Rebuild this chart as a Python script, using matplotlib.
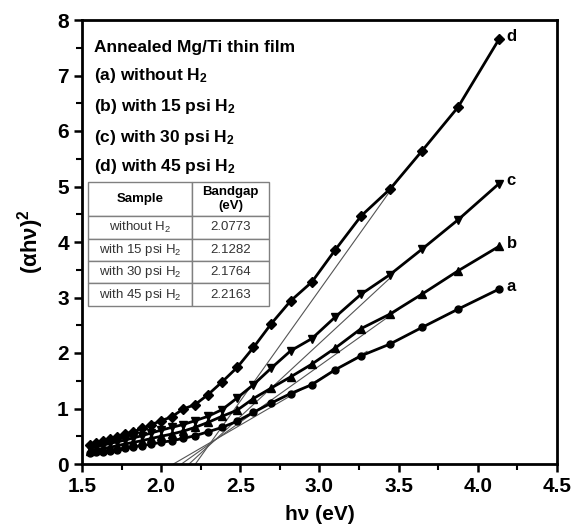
import matplotlib
matplotlib.use("Agg")
import matplotlib.pyplot as plt
import numpy as np
from matplotlib.ticker import MultipleLocator

plt.rcParams['font.family'] = ['Liberation Sans Narrow', 'Liberation Sans', 'DejaVu Sans']
plt.rcParams['mathtext.fontset'] = 'custom'
plt.rcParams['mathtext.rm'] = 'Liberation Sans'
plt.rcParams['mathtext.bf'] = 'Liberation Sans:bold'
plt.rcParams['mathtext.default'] = 'regular'

# photon energy (eV)
hv = [4.133, 3.875, 3.647, 3.444, 3.263, 3.100, 2.952, 2.818, 2.696, 2.583,
      2.480, 2.385, 2.296, 2.214, 2.138, 2.067, 2.000, 1.938, 1.879, 1.824,
      1.771, 1.722, 1.676, 1.632, 1.590, 1.550]

a_vals = [3.15, 2.79, 2.46, 2.16, 1.95, 1.70, 1.43, 1.27, 1.10, 0.93,
          0.77, 0.66, 0.58, 0.51, 0.46, 0.42, 0.39, 0.36, 0.33, 0.31,
          0.28, 0.26, 0.24, 0.22, 0.21, 0.20]
b_vals = [3.92, 3.48, 3.06, 2.70, 2.44, 2.09, 1.80, 1.57, 1.37, 1.18,
          0.97, 0.86, 0.75, 0.66, 0.59, 0.54, 0.50, 0.46, 0.42, 0.39,
          0.36, 0.33, 0.30, 0.28, 0.26, 0.24]
c_vals = [5.05, 4.40, 3.87, 3.41, 3.06, 2.65, 2.26, 2.04, 1.73, 1.43,
          1.19, 0.98, 0.86, 0.78, 0.71, 0.66, 0.61, 0.56, 0.51, 0.47,
          0.43, 0.40, 0.37, 0.34, 0.31, 0.28]
d_vals = [7.65, 6.43, 5.64, 4.95, 4.47, 3.86, 3.28, 2.94, 2.53, 2.10,
          1.74, 1.48, 1.25, 1.07, 0.99, 0.85, 0.78, 0.71, 0.64, 0.58,
          0.54, 0.49, 0.45, 0.41, 0.37, 0.34]

series_names = ['a', 'b', 'c', 'd']
series_markers = ['o', '^', 'v', 'D']
bandgaps = [2.0773, 2.1282, 2.1764, 2.2163]
fit_slopes = [1.66, 2.03, 2.64, 4.0]
fit_ends = [3.30, 3.50, 3.45, 3.50]

table_rows = ['without H$_2$', 'with 15 psi H$_2$', 'with 30 psi H$_2$', 'with 45 psi H$_2$']
table_gaps = ['2.0773', '2.1282', '2.1764', '2.2163']

legend_lines = ['Annealed Mg/Ti thin film',
                '(a) without H$_\\mathbf{2}$',
                '(b) with 15 psi H$_\\mathbf{2}$',
                '(c) with 30 psi H$_\\mathbf{2}$',
                '(d) with 45 psi H$_\\mathbf{2}$']

fig = plt.figure(figsize=(5.71, 5.29), dpi=100)
ax = fig.add_axes([82 / 571, 1 - 464 / 529, 475 / 571, 444 / 529])

all_vals = [a_vals, b_vals, c_vals, d_vals]
sizes = [5, 6, 6, 5]
for vals, name, mk, ms in zip(all_vals, series_names, series_markers, sizes):
    ax.plot(hv, vals, color='black', lw=2, marker=mk, ms=ms, zorder=3)
    ax.text(hv[0] + 0.05, vals[0] + 0.05, name, fontsize=12, fontweight='bold',
            ha='left', va='center')

# tangent (Tauc) lines
for eg, k, xe in zip(bandgaps, fit_slopes, fit_ends):
    xs = np.array([eg, xe])
    ax.plot(xs, k * (xs - eg), color='#555555', lw=0.8, zorder=2)

ax.set_xlim(1.5, 4.5)
ax.set_ylim(0, 8)
ax.xaxis.set_major_locator(MultipleLocator(0.5))
ax.xaxis.set_minor_locator(MultipleLocator(0.25))
ax.yaxis.set_major_locator(MultipleLocator(1))
ax.yaxis.set_minor_locator(MultipleLocator(0.5))
ax.xaxis.set_major_formatter(plt.FuncFormatter(lambda v, p: f'{v:.1f}'))
ax.tick_params(which='major', direction='out', length=6, width=1.8, labelsize=15)
ax.tick_params(which='minor', direction='out', length=4, width=1.5)
for lab in ax.get_xticklabels() + ax.get_yticklabels():
    lab.set_fontweight('bold')
for sp in ax.spines.values():
    sp.set_linewidth(2)

ax.set_xlabel('h\u03bd (eV)', fontsize=15, fontweight='bold', labelpad=6)
ax.set_ylabel('(\u03b1h\u03bd)$^\\mathbf{2}$', fontsize=16, fontweight='bold', labelpad=8)

ys = [0.937, 0.874, 0.806, 0.736, 0.671]
for t, y in zip(legend_lines, ys):
    ax.text(0.025, y, t, transform=ax.transAxes, fontsize=12.5, fontweight='bold',
            ha='left', va='center')

cells = [[r, g] for r, g in zip(table_rows, table_gaps)]
tbl = ax.table(cellText=cells, colLabels=['Sample', 'Bandgap\n(eV)'],
               colWidths=[0.575, 0.425], cellLoc='center',
               bbox=[0.0126, 0.356, 0.381, 0.279])
tbl.auto_set_font_size(False)
for (r, c), cell in tbl.get_celld().items():
    cell.set_edgecolor('#808080')
    cell.set_linewidth(1.0)
    cell.set_height(34 if r == 0 else 22.5)
    txt = cell.get_text()
    txt.set_color('#333333')
    if r == 0:
        txt.set_fontsize(9.5)
        txt.set_fontweight('bold')
        txt.set_color('black')
    else:
        txt.set_fontsize(9.5)

fig.savefig('out.png', dpi=100)
